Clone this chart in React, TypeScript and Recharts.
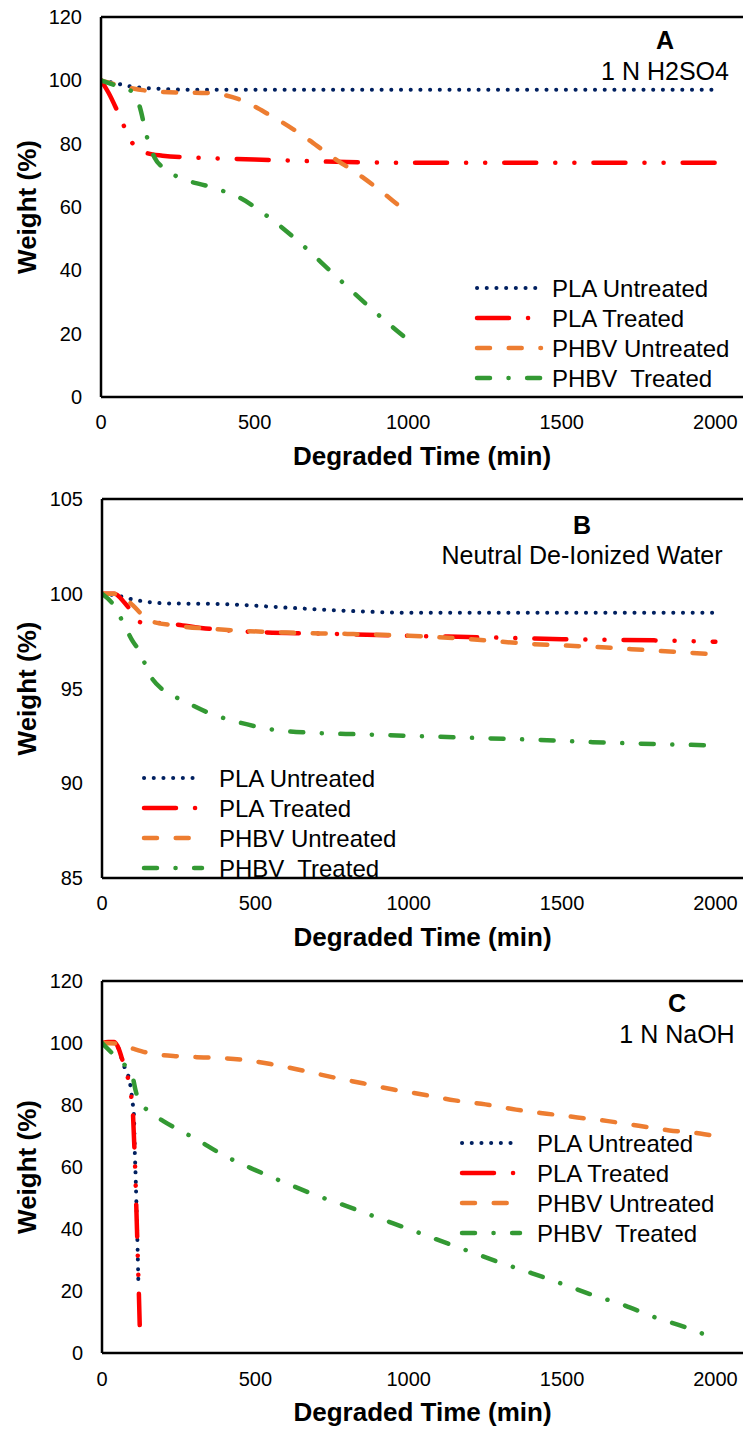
import { Legend, Line, LineChart, ReferenceLine, XAxis, YAxis } from "recharts";

// time (min) ticks shared by every panel
const xTicks = [0, 500, 1000, 1500, 2000];
const yTicksA = [0, 20, 40, 60, 80, 100, 120];
const yTicksB = [85, 90, 95, 100, 105];
const yTicksC = [0, 20, 40, 60, 80, 100, 120];

const seriesNames = ["PLA Untreated", "PLA Treated", "PHBV Untreated", "PHBV  Treated"];

// Panel A - 1 N H2SO4, [time, weight %]
const aPlaUntreated = [[0, 100], [50, 99], [100, 98], [200, 97.3], [300, 97], [600, 97], [1000, 97], [1500, 97], [2000, 97]];
const aPlaTreated = [[0, 100], [25, 96], [50, 91], [75, 85.5], [100, 80.5], [125, 78], [150, 77], [200, 76.2], [300, 75.6], [500, 75], [800, 74.2], [1000, 74], [1500, 74], [2000, 74]];
const aPhbvUntreated = [[0, 100], [100, 97.5], [200, 96.3], [350, 96], [450, 94], [550, 89], [650, 83], [750, 76], [850, 69.5], [950, 62], [1000, 58]];
const aPhbvTreated = [[0, 100], [50, 98.3], [100, 96.5], [125, 92], [150, 82], [175, 75.5], [200, 72.5], [250, 69.5], [350, 66.5], [450, 63], [550, 56.5], [650, 48.5], [750, 39.5], [850, 30.5], [950, 22], [1000, 18]];

// Panel B - neutral de-ionized water
const bPlaUntreated = [[0, 100], [50, 99.9], [100, 99.7], [200, 99.5], [400, 99.45], [600, 99.27], [800, 99.1], [1000, 99], [1500, 99], [2000, 99]];
const bPlaTreated = [[0, 100], [40, 100], [75, 99.5], [100, 99], [125, 98.5], [200, 98.45], [350, 98.15], [500, 97.98], [700, 97.9], [1000, 97.78], [1250, 97.7], [1500, 97.6], [1800, 97.54], [2000, 97.47]];
const bPhbvUntreated = [[0, 100], [50, 100], [100, 99.4], [130, 98.9], [150, 98.6], [250, 98.3], [400, 98.1], [600, 97.95], [800, 97.88], [1000, 97.78], [1200, 97.6], [1400, 97.35], [1600, 97.2], [1800, 97], [2000, 96.8]];
const bPhbvTreated = [[0, 100], [40, 99.35], [65, 98.6], [100, 97.5], [125, 96.9], [150, 95.9], [200, 94.9], [260, 94.4], [350, 93.7], [450, 93.2], [550, 92.85], [700, 92.65], [850, 92.58], [1000, 92.5], [1200, 92.4], [1400, 92.3], [1600, 92.17], [1800, 92.07], [2000, 92]];

// Panel C - 1 N NaOH
const cPlaUntreated = [[0, 100], [20, 100], [40, 100], [55, 98], [70, 93], [85, 89.7], [92, 86.7], [100, 80.6], [104, 77], [107, 65], [110, 56], [112, 49], [116, 34], [119, 21]];
const cPlaTreated = [[0, 100], [20, 100.3], [40, 100.3], [55, 98], [65, 95], [75, 92], [85, 88.5], [95, 83], [100, 79], [104, 70], [108, 60], [111, 50], [114, 40], [117, 30], [120, 20], [123, 9]];
const cPhbvUntreated = [[0, 100], [50, 99.8], [100, 98.2], [150, 96.8], [250, 95.7], [350, 95.3], [450, 94.7], [550, 93.2], [650, 91.2], [750, 89], [850, 87], [950, 85], [1050, 83.3], [1150, 81.5], [1250, 80.2], [1350, 78.5], [1450, 77.2], [1550, 76], [1650, 74.8], [1750, 73.3], [1850, 71.8], [1950, 70.8], [2000, 70]];
const cPhbvTreated = [[0, 100], [30, 97], [60, 94], [80, 92.3], [100, 89], [110, 84.5], [120, 81.5], [150, 78.2], [200, 74.8], [250, 72], [300, 69.4], [400, 63.6], [500, 59], [600, 54.8], [700, 50.8], [800, 47.3], [900, 43.6], [1000, 40], [1100, 36.3], [1200, 32.7], [1300, 29.1], [1400, 25.8], [1500, 22.3], [1600, 18.7], [1700, 15.5], [1800, 11.6], [1900, 8.4], [1965, 6]];

const lineStyles = [
  { color: "#002060", width: 4, dash: "0.1 9.6" },
  { color: "#FF0000", width: 4.5, dash: "32 19 0.1 19 0.1 19" },
  { color: "#ED7D31", width: 4.5, dash: "13 18.7" },
  { color: "#339933", width: 4.5, dash: "13 18.5 0.1 18.5" },
];

const FONT = "'Liberation Sans', Arial, sans-serif";

const toPoints = (arr: number[][]) => arr.map(([t, w]) => ({ t, w }));

type PanelProps = {
  top: number;
  height: number;
  marginTop: number;
  marginBottom: number;
  axisHeight: number;
  yWidth: number;
  yDomain: [number, number];
  yTicks: number[];
  series: number[][][];
  letter: string;
  caption: string;
  capX: number;
  letterY: number;
  captionY: number;
  legendX: number;
  legendY: number;
  sampleLen: number;
  textGap: number;
  xTickGap: number;
  titleOffset: number;
};

function makeLegend(sampleLen: number, textGap: number) {
  return () => (
    <svg width={320} height={125} style={{ display: "block" }}>
      {seriesNames.map((name, i) => {
        const y = 15 + i * 30;
        const s = lineStyles[i];
        return (
          <g key={name}>
            <line
              x1={3}
              x2={3 + sampleLen}
              y1={y}
              y2={y}
              stroke={s.color}
              strokeWidth={s.width}
              strokeDasharray={s.dash}
              strokeLinecap="round"
            />
            <text
              x={3 + sampleLen + textGap}
              y={y}
              dominantBaseline="central"
              fontSize={24}
              fill="#000"
              style={{ whiteSpace: "pre", fontFamily: FONT }}
            >
              {name}
            </text>
          </g>
        );
      })}
    </svg>
  );
}

function Panel(p: PanelProps) {
  const plotTop = p.marginTop;
  const plotBottom = p.height - p.marginBottom - p.axisHeight;
  const cy = (plotTop + plotBottom) / 2;
  return (
    <div style={{ position: "absolute", left: 0, top: p.top }}>
      <LineChart
        width={743}
        height={p.height}
        margin={{ top: p.marginTop, right: 0, bottom: p.marginBottom, left: 0 }}
      >
        <XAxis
          type="number"
          dataKey="t"
          domain={[0, 2090]}
          ticks={xTicks}
          allowDataOverflow
          height={p.axisHeight}
          tickLine={false}
          tickSize={8}
          tickMargin={p.xTickGap - 8}
          axisLine={{ stroke: "#000", strokeWidth: 2.5 }}
          tick={{ fontSize: 20, fill: "#000" }}
          label={{
            value: "Degraded Time (min)",
            position: "insideBottom",
            offset: p.titleOffset,
            fontSize: 26,
            fontWeight: "bold",
            fill: "#000",
          }}
        />
        <YAxis
          type="number"
          domain={p.yDomain}
          ticks={p.yTicks}
          allowDataOverflow
          width={p.yWidth}
          tickLine={false}
          tickSize={8}
          tickMargin={11}
          axisLine={{ stroke: "#000", strokeWidth: 2.5 }}
          tick={{ fontSize: 20, fill: "#000" }}
        />
        <ReferenceLine y={p.yDomain[1]} stroke="#000" strokeWidth={2.5} />
        {p.series.map((s, i) => (
          <Line
            key={seriesNames[i]}
            data={toPoints(s)}
            dataKey="w"
            name={seriesNames[i]}
            type="monotone"
            stroke={lineStyles[i].color}
            strokeWidth={lineStyles[i].width}
            strokeDasharray={lineStyles[i].dash}
            strokeLinecap="round"
            dot={false}
            activeDot={false}
            isAnimationActive={false}
          />
        ))}
        <Legend
          layout="vertical"
          align="center"
          verticalAlign="middle"
          content={makeLegend(p.sampleLen, p.textGap)}
          wrapperStyle={{ left: p.legendX - 3, top: p.legendY - 15, width: 320, height: 125 }}
        />
        <text
          x={27}
          y={cy}
          transform={`rotate(-90 27 ${cy})`}
          textAnchor="middle"
          dominantBaseline="central"
          fontSize={26}
          fontWeight="bold"
          fill="#000"
        >
          Weight (%)
        </text>
        <text x={p.capX} y={p.letterY} textAnchor="middle" dominantBaseline="central" fontSize={25} fontWeight="bold" fill="#000">
          {p.letter}
        </text>
        <text x={p.capX} y={p.captionY} textAnchor="middle" dominantBaseline="central" fontSize={25} fill="#000">
          {p.caption}
        </text>
      </LineChart>
    </div>
  );
}

export default function App() {
  return (
    <div
      style={{
        position: "absolute",
        left: 0,
        top: 0,
        width: 743,
        height: 1429,
        background: "#fff",
        overflow: "hidden",
        fontFamily: FONT,
      }}
    >
      <Panel
        top={0}
        height={480}
        marginTop={17}
        marginBottom={8}
        axisHeight={75}
        yWidth={101}
        yDomain={[0, 120]}
        yTicks={yTicksA}
        series={[aPlaUntreated, aPlaTreated, aPhbvUntreated, aPhbvTreated]}
        letter="A"
        caption="1 N H2SO4"
        capX={665}
        letterY={40}
        captionY={71}
        legendX={477}
        legendY={288}
        sampleLen={64}
        textGap={11}
        xTickGap={18}
        titleOffset={7}
      />
      <Panel
        top={480}
        height={480}
        marginTop={19}
        marginBottom={7}
        axisHeight={75}
        yWidth={102}
        yDomain={[85, 105]}
        yTicks={yTicksB}
        series={[bPlaUntreated, bPlaTreated, bPhbvUntreated, bPhbvTreated]}
        letter="B"
        caption="Neutral De-Ionized Water"
        capX={582}
        letterY={45}
        captionY={75}
        legendX={144}
        legendY={298}
        sampleLen={58}
        textGap={17}
        xTickGap={18}
        titleOffset={7}
      />
      <Panel
        top={960}
        height={469}
        marginTop={21}
        marginBottom={0}
        axisHeight={76}
        yWidth={102}
        yDomain={[0, 120]}
        yTicks={yTicksC}
        series={[cPlaUntreated, cPlaTreated, cPhbvUntreated, cPhbvTreated]}
        letter="C"
        caption="1 N NaOH"
        capX={677}
        letterY={43}
        captionY={74}
        legendX={462}
        legendY={183}
        sampleLen={58}
        textGap={17}
        xTickGap={19}
        titleOffset={8}
      />
    </div>
  );
}
